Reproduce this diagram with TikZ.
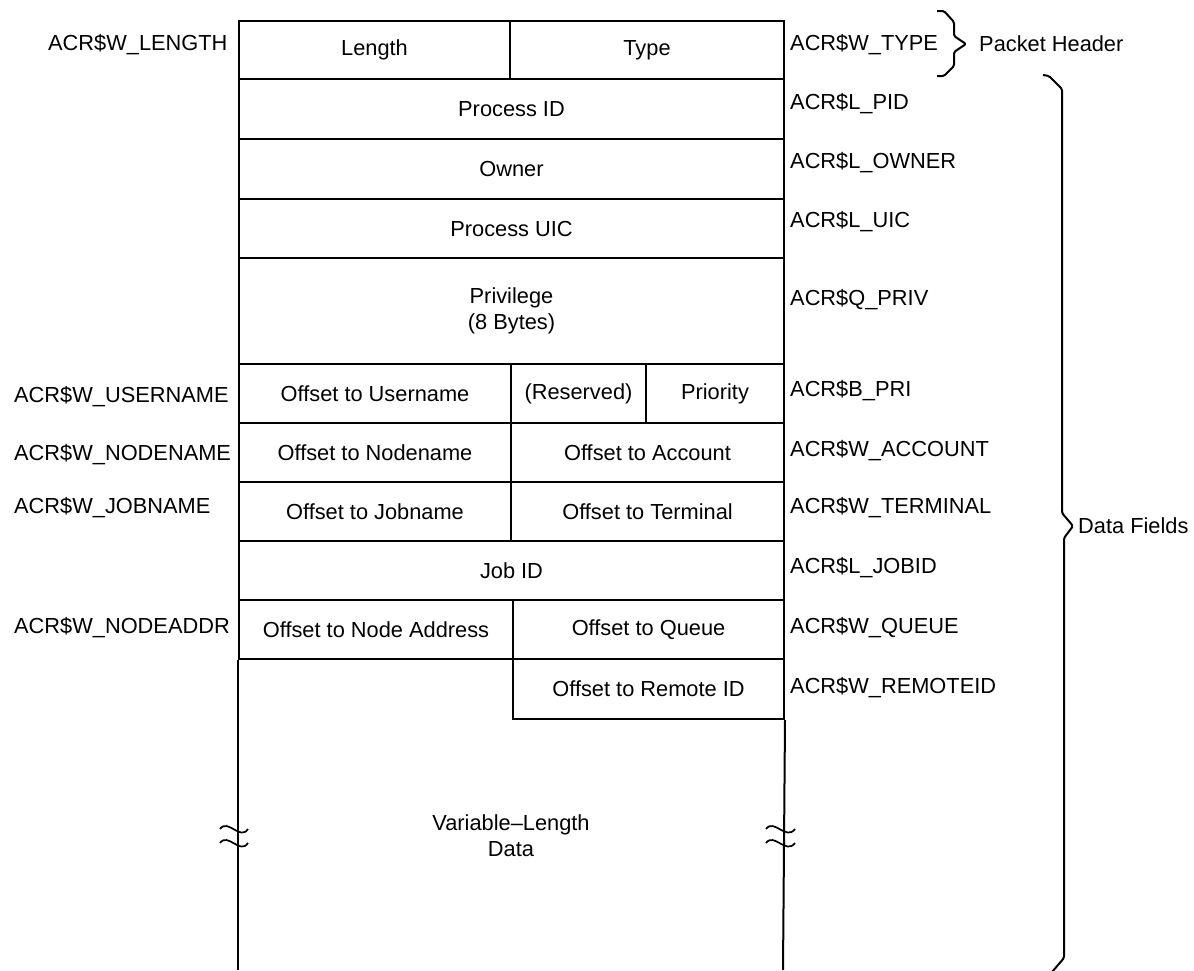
\documentclass[tikz,border=0pt]{standalone}
\usepackage{fontspec}
\setmainfont{Liberation Sans}
\newcommand\lblfont{\fontsize{21.8}{26}\selectfont}
\begin{document}
\begin{tikzpicture}[x=1pt,y=-1pt,
 cell/.style={draw, line width=2pt, inner sep=0pt, anchor=north west, font=\lblfont, align=center},
 lab/.style={inner sep=0pt, anchor=west, font=\lblfont},
 txt/.style={inner sep=0pt, font=\lblfont, align=center},
 rule/.style={line width=2pt},
 wave/.style={line width=1.7pt},
 brace/.style={line width=2pt, line join=round, rounded corners=1.5pt}]
\useasboundingbox (0,0) rectangle (1194,970);
% header row
\node[cell, minimum width=271pt, minimum height=58pt] (len) at (238,20) {Length};
\node[cell, minimum width=274pt, minimum height=58pt] (typ) at (509,20) {Type};
% full-width rows
\node[cell, minimum width=545pt, minimum height=60pt] (pid) at (238,78) {Process ID};
\node[cell, minimum width=545pt, minimum height=60pt] (own) at (238,138) {Owner};
\node[cell, minimum width=545pt, minimum height=59pt] (uic) at (238,198) {Process UIC};
\node[cell, minimum width=545pt, minimum height=106pt] (priv) at (238,257) {Privilege\\(8 Bytes)};
% split rows
\node[cell, minimum width=272pt, minimum height=59pt] (usr) at (238,363) {Offset to Username};
\node[cell, minimum width=135pt, minimum height=59pt] (res) at (510,363) {(Reserved)};
\node[cell, minimum width=138pt, minimum height=59pt] (pri) at (645,363) {Priority};
\node[cell, minimum width=272pt, minimum height=59pt] (nod) at (238,422) {Offset to Nodename};
\node[cell, minimum width=273pt, minimum height=59pt] (acc) at (510,422) {Offset to Account};
\node[cell, minimum width=272pt, minimum height=59pt] (job) at (238,481) {Offset to Jobname};
\node[cell, minimum width=273pt, minimum height=59pt] (trm) at (510,481) {Offset to Terminal};
\node[cell, minimum width=545pt, minimum height=59pt] (jid) at (238,540) {Job ID};
\node[cell, minimum width=274pt, minimum height=59pt] (nad) at (238,599) {Offset to Node Address};
\node[cell, minimum width=271pt, minimum height=59pt] (que) at (512,599) {Offset to Queue};
\node[cell, minimum width=271pt, minimum height=60pt] (rid) at (512,658) {Offset to Remote ID};
% variable-length region (open at the bottom)
\coordinate (vlb) at (238,970);
\coordinate (vrb) at (783,970);
\draw[rule] (nad.south west) -- (vlb);
\draw[rule] (rid.south east) -- (vrb);
\node[txt] (var) at (511,836) {Variable--Length\\Data};
% break marks
\draw[wave] (220,829) .. controls (228,818) and (240,841) .. (248,829);
\draw[wave] (220,843) .. controls (228,832) and (240,855) .. (248,843);
\draw[wave] (766,829) .. controls (774,818) and (786,841) .. (795,829);
\draw[wave] (766,843) .. controls (774,832) and (786,855) .. (795,843);
% left labels
\node[lab] (lLEN) at (48,45) {ACR\$W\_LENGTH};
\node[lab] (lUSR) at (14,397) {ACR\$W\_USERNAME};
\node[lab] (lNOD) at (14,455) {ACR\$W\_NODENAME};
\node[lab] (lJOB) at (14,508) {ACR\$W\_JOBNAME};
\node[lab] (lNAD) at (14,628) {ACR\$W\_NODEADDR};
% right labels
\node[lab] (rTYP) at (790,45) {ACR\$W\_TYPE};
\node[lab] (rPID) at (790,104) {ACR\$L\_PID};
\node[lab] (rOWN) at (790,163) {ACR\$L\_OWNER};
\node[lab] (rUIC) at (790,222) {ACR\$L\_UIC};
\node[lab] (rPRV) at (790,300) {ACR\$Q\_PRIV};
\node[lab] (rPRI) at (790,391) {ACR\$B\_PRI};
\node[lab] (rACC) at (790,451) {ACR\$W\_ACCOUNT};
\node[lab] (rTRM) at (790,508) {ACR\$W\_TERMINAL};
\node[lab] (rJID) at (790,568) {ACR\$L\_JOBID};
\node[lab] (rQUE) at (790,628) {ACR\$W\_QUEUE};
\node[lab] (rRID) at (790,688) {ACR\$W\_REMOTEID};
% braces
\node[lab] (ph) at (979,44) {Packet Header};
\draw[brace] (937,11) -- (944,11) -- (954,22) -- (954,36) -- (966,44) -- (954,52) -- (954,66) -- (944,76) -- (937,76);
\node[lab] (df) at (1078,526) {Data Fields};
\draw[brace] (1043,75) -- (1049,76) -- (1062,89) -- (1062,513) -- (1073,526) -- (1064,538) -- (1064,958) -- (1052,972);
\end{tikzpicture}
\end{document}
